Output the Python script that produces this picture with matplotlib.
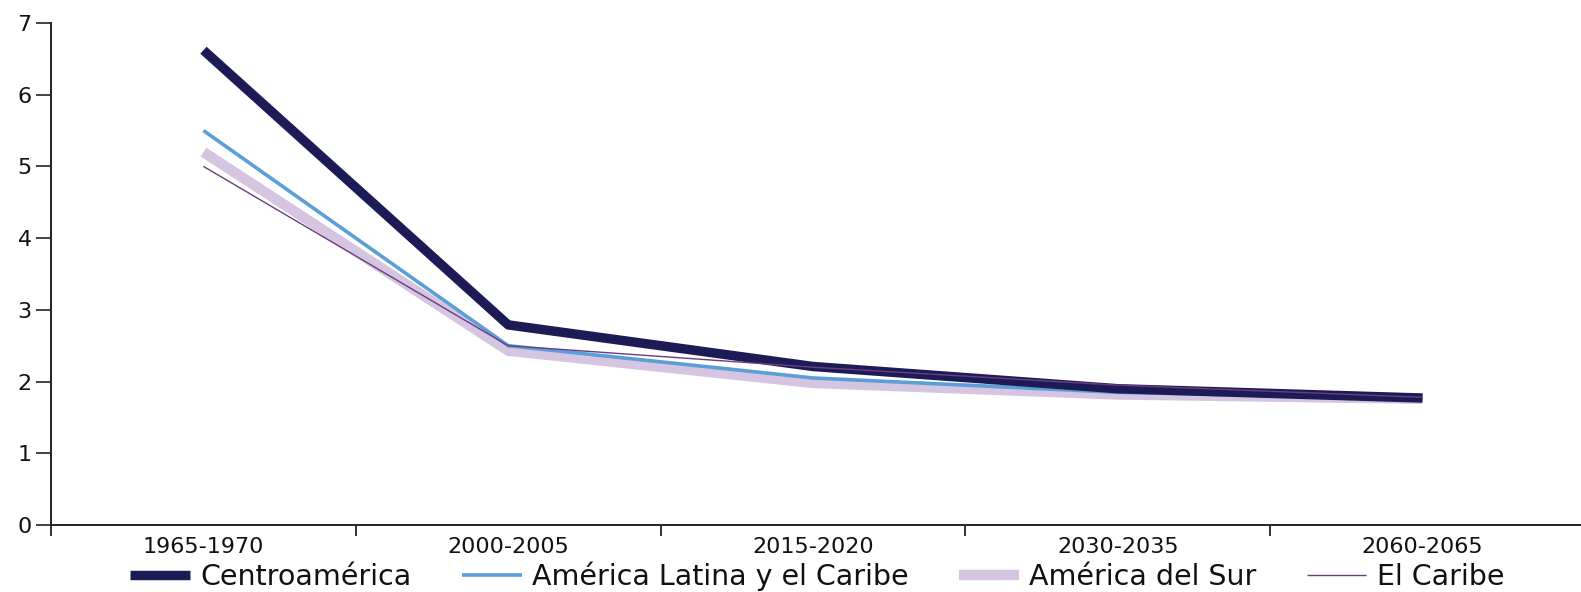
import matplotlib
matplotlib.use("Agg")
import matplotlib.pyplot as plt

categories = ["1965-1970", "2000-2005", "2015-2020", "2030-2035", "2060-2065"]
centroamerica = [6.62, 2.79, 2.21, 1.90, 1.77]
alc = [5.50, 2.50, 2.05, 1.85, 1.76]
sur = [5.20, 2.43, 1.98, 1.82, 1.76]
caribe = [5.00, 2.50, 2.20, 1.95, 1.78]
yticks = [0, 1, 2, 3, 4, 5, 6, 7]

plt.rcParams['font.family'] = ['DejaVu Sans']

fig = plt.figure(figsize=(15.81, 5.92), dpi=100)
ax = fig.add_axes([0.0323, 0.1132, 0.9677, 0.848])

x = list(range(len(categories)))
l_sur, = ax.plot(x, sur, color="#d6c5e1", lw=7.5, solid_capstyle="butt", label="América del Sur", zorder=2)
l_alc, = ax.plot(x, alc, color="#5c9fd8", lw=2.6, solid_capstyle="butt", label="América Latina y el Caribe", zorder=3)
l_cen, = ax.plot(x, centroamerica, color="#1d1b56", lw=6.8, solid_capstyle="butt", label="Centroamérica", zorder=4)
l_car, = ax.plot(x, caribe, color="#6a3c80", lw=1.0, solid_capstyle="butt", label="El Caribe", zorder=5)

ax.set_xlim(-0.5, 4.52)
ax.set_ylim(0, 7)
ax.set_yticks(yticks)
ax.set_yticklabels([str(v) for v in yticks])
ax.set_xticks([i - 0.5 for i in x])
ax.set_xticklabels([])
ax.set_xticks(x, minor=True)
ax.set_xticklabels(categories, minor=True)
ax.tick_params(axis="x", which="minor", length=0, pad=9, labelsize=16, labelcolor="#111111")
ax.tick_params(axis="x", which="major", length=8, width=1.3, direction="out", color="#222222")
ax.tick_params(axis="y", length=11, width=1.2, direction="out", labelsize=16, labelcolor="#111111", color="#222222", pad=3)

for s in ["top", "right"]:
    ax.spines[s].set_visible(False)
for s in ["left", "bottom"]:
    ax.spines[s].set_linewidth(1.4)
    ax.spines[s].set_color("#222222")

fig.legend(handles=[l_cen, l_alc, l_sur, l_car], loc="center", bbox_to_anchor=(0.517, 0.026),
           ncol=4, frameon=False, fontsize=20.5, handlelength=2.1, handletextpad=0.38,
           columnspacing=1.75, borderaxespad=0, labelcolor="#111111")

fig.savefig("out.png", dpi=100)
